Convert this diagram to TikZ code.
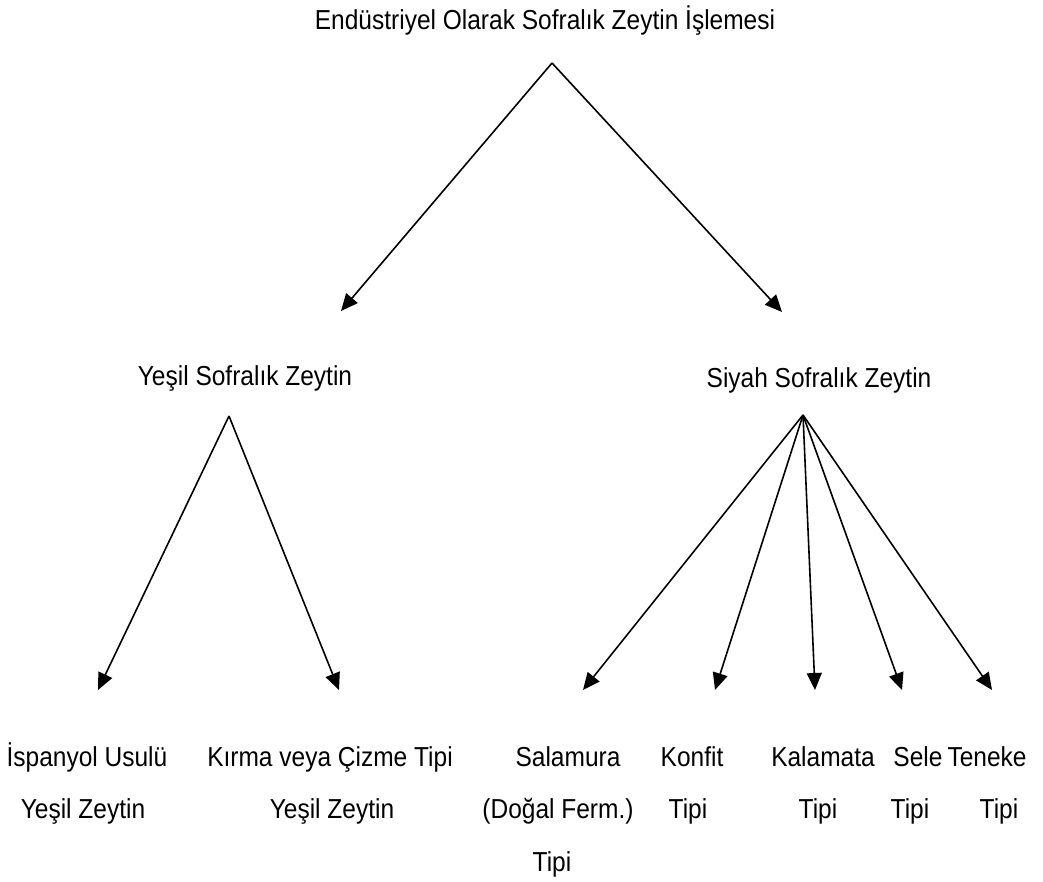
\documentclass[tikz,border=0pt]{standalone}
\usepackage{fontspec}
\setmainfont{Liberation Sans}
\usetikzlibrary{arrows.meta}
\newcommand{\tall}[1]{\scalebox{1}[1.12]{#1}}
\tikzset{
  lbl/.style={anchor=base, inner sep=0pt, font=\fontsize{24.5}{29}\selectfont, text=black},
  arr/.style={draw=black, line width=1.6pt, -{Triangle[length=17pt,width=15pt]}}
}
\begin{document}
\begin{tikzpicture}[x=1pt,y=-1pt]
\useasboundingbox (0,0) rectangle (1043,881);
% texts
\node[lbl] (title) at (545,29) {\tall{Endüstriyel Olarak Sofralık Zeytin İşlemesi}};
\node[lbl] (yesil) at (245,385) {\tall{Yeşil Sofralık Zeytin}};
\node[lbl] (siyah) at (819,387) {\tall{Siyah Sofralık Zeytin}};
\node[lbl] (isp1) at (87,766) {\tall{İspanyol Usulü}};
\node[lbl] (isp2) at (83,818) {\tall{Yeşil Zeytin}};
\node[lbl] (kir1) at (330,766) {\tall{Kırma veya Çizme Tipi}};
\node[lbl] (kir2) at (332,818) {\tall{Yeşil Zeytin}};
\node[lbl] (sal1) at (568,766) {\tall{Salamura}};
\node[lbl] (sal2) at (558,818) {\tall{(Doğal Ferm.)}};
\node[lbl] (sal3) at (552,871) {\tall{Tipi}};
\node[lbl] (kon1) at (692,766) {\tall{Konfit}};
\node[lbl] (kon2) at (688,818) {\tall{Tipi}};
\node[lbl] (kal1) at (823,766) {\tall{Kalamata}};
\node[lbl] (kal2) at (818,818) {\tall{Tipi}};
\node[lbl] (sel1) at (918,766) {\tall{Sele}};
\node[lbl] (sel2) at (910,818) {\tall{Tipi}};
\node[lbl] (ten1) at (987,766) {\tall{Teneke}};
\node[lbl] (ten2) at (999,818) {\tall{Tipi}};
% connector points
\coordinate (a0) at (552,63);
\coordinate (t1) at (341,311);
\coordinate (t2) at (782,312);
\coordinate (a1) at (229,416);
\coordinate (u1) at (98,690);
\coordinate (u2) at (339,690);
\coordinate (a2) at (803,415);
\coordinate (v1) at (583,690);
\coordinate (v2) at (715,690);
\coordinate (v3) at (815,690);
\coordinate (v4) at (902,690);
\coordinate (v5) at (992,690);
% arrows
\draw[arr] (a0) -- (t1);
\draw[arr] (a0) -- (t2);
\draw[arr] (a1) -- (u1);
\draw[arr] (a1) -- (u2);
\draw[arr] (a2) -- (v1);
\draw[arr] (a2) -- (v2);
\draw[arr] (a2) -- (v3);
\draw[arr] (a2) -- (v4);
\draw[arr] (a2) -- (v5);
\end{tikzpicture}
\end{document}
